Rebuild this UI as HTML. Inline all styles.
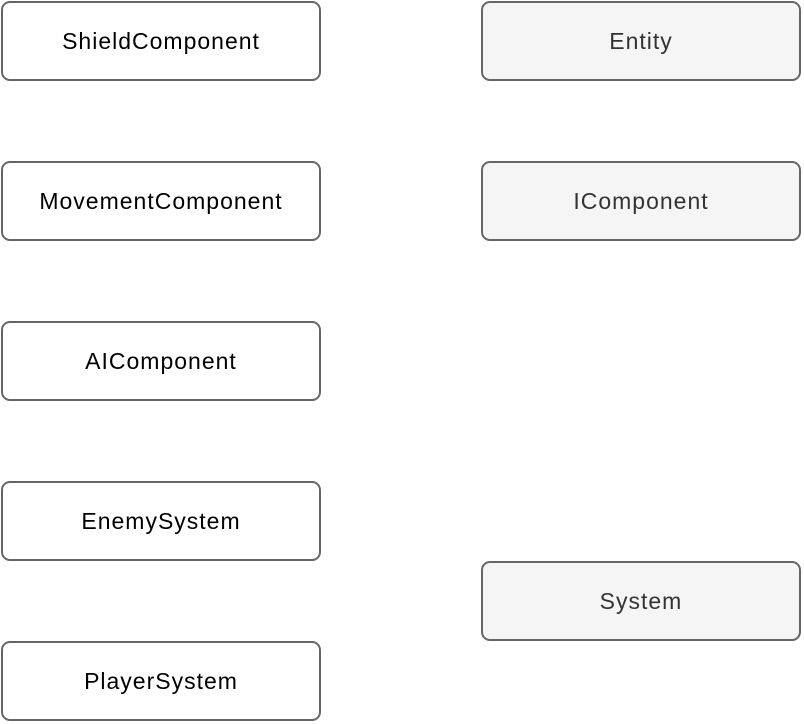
<!DOCTYPE html>
<html><head><style>
body{margin:0;width:804px;height:724px;background:#fff;position:relative;font-family:"Liberation Sans",Arial,sans-serif;}
.b{position:absolute;width:316px;border:2px solid #666;border-radius:9px;box-sizing:content-box;display:flex;align-items:center;justify-content:center;font-size:23px;letter-spacing:1px;color:#000;background:#fff;padding-top:1px;height:75px;}
.r{background:#f5f5f5;color:#333;}
</style></head><body>
<div class="b" style="left:1px;top:1px">ShieldComponent</div>
<div class="b" style="left:1px;top:161px">MovementComponent</div>
<div class="b" style="left:1px;top:321px">AIComponent</div>
<div class="b" style="left:1px;top:481px">EnemySystem</div>
<div class="b" style="left:1px;top:641px">PlayerSystem</div>
<div class="b r" style="left:481px;top:1px">Entity</div>
<div class="b r" style="left:481px;top:161px">IComponent</div>
<div class="b r" style="left:481px;top:561px">System</div>
</body></html>
